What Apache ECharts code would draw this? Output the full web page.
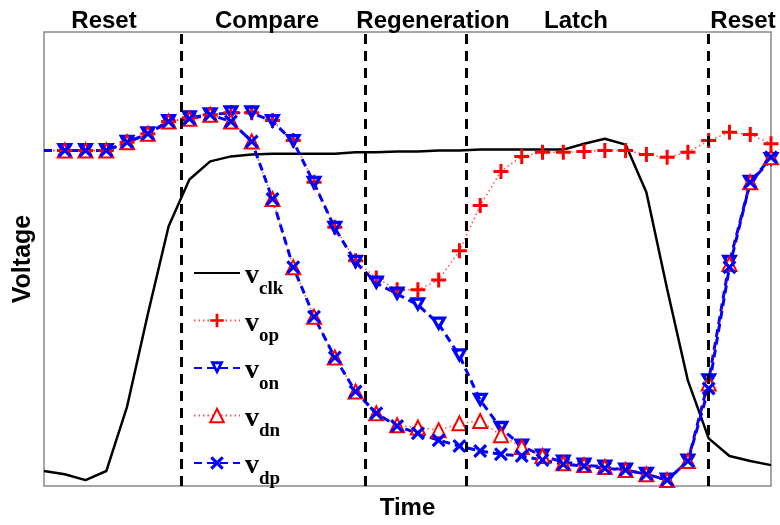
<!DOCTYPE html>
<html>
<head>
<meta charset="utf-8">
<script src="https://cdn.jsdelivr.net/npm/echarts@6/dist/echarts.min.js"></script>
<style>
    html, body {margin: 0; padding: 0; background: #fff;}
    #main {width: 780px; height: 525px;}
</style>
</head>
<body>
<div id="main"></div>
<script>
    // time steps 0..35, voltage in % of plot height
    var vclk = [3.3, 2.6, 1.3, 3.3, 17.5, 37.9, 57.2, 67.5, 71.5, 72.6, 73.0, 73.2, 73.2, 73.2, 73.2, 73.5, 73.5, 73.7,
        73.7, 73.9, 73.9, 74.1, 74.1, 74.1, 74.1, 74.1, 75.4, 76.5, 75.2, 64.7, 43.4, 23.2, 10.5, 6.6, 5.5, 4.6];
    var vop = [73.9, 73.9, 73.9, 73.9, 75.7, 77.6, 80.3, 81.1, 81.8, 82.2, 82.2, 80.5, 76.1, 66.9, 57.0, 49.6, 45.8, 43.2,
        43.2, 45.4, 51.8, 61.8, 69.3, 72.6, 73.5, 73.5, 73.7, 73.9, 73.9, 73.0, 72.4, 73.5, 76.1, 77.9, 77.4, 75.4];
    var von = [73.9, 73.9, 73.9, 73.9, 75.7, 77.6, 80.3, 81.1, 81.8, 82.2, 82.2, 80.3, 75.9, 66.7, 56.8, 49.3, 44.7, 42.3,
        39.9, 35.7, 28.7, 18.9, 12.7, 8.8, 6.6, 5.3, 4.6, 4.2, 3.5, 2.6, 1.3, 5.5, 23.2, 49.3, 66.9, 71.9];
    var vdn = [73.9, 73.9, 73.9, 73.9, 75.7, 77.6, 80.3, 80.9, 81.8, 80.3, 75.9, 63.2, 48.2, 37.3, 28.3, 20.8, 16.0, 13.4,
        12.9, 12.3, 13.8, 14.3, 11.2, 8.6, 6.6, 5.0, 4.6, 4.2, 3.5, 2.6, 1.3, 5.5, 22.6, 48.9, 66.9, 72.4];
    var vdp = [73.9, 73.9, 73.9, 73.9, 75.7, 77.6, 80.3, 80.9, 81.8, 80.3, 75.9, 63.2, 48.2, 37.3, 28.3, 20.8, 16.0, 13.2,
        11.6, 10.1, 8.8, 7.7, 7.0, 6.6, 5.7, 4.8, 4.4, 3.9, 3.5, 2.6, 1.3, 5.5, 21.5, 48.2, 66.9, 72.4];

    // phase boundaries (time steps) and phase names
    var phaseLines = [6.6, 15.45, 20.32, 31.97];
    var phaseNames = ['Reset', 'Compare', 'Regeneration', 'Latch', 'Reset'];
    var phaseX = [104, 267, 433, 576, 743];

    var plusPath = 'path://M6,0H9V6H15V9H9V15H6V9H0V6H6Z';
    var crossPath = 'path://M0,1.6L1.6,0L5,3.4L8.4,0L10,1.6L6.6,5L10,8.4L8.4,10L5,6.6L1.6,10L0,8.4L3.4,5Z';
    // thick open triangle pointing down (outer cw, inner ccw -> hole)
    var triDownPath = 'path://M0,0L14,0L7,12ZM4.7,2.7L7,6.64L9.3,2.7Z';

    function pts(arr) {
        return arr.map(function (v, i) {
            return i === 0 ? {value: [i, v], symbol: 'none'} : [i, v];
        });
    }

    var serif = 'Liberation Serif';
    var sans = 'Liberation Sans';
    var legendRich = {
        v: {fontFamily: serif, fontWeight: 'bold', fontSize: 28, color: '#000', padding: [6, 0, 0, 0]},
        s: {fontFamily: serif, fontWeight: 'bold', fontSize: 19, color: '#000', padding: [32, 0, 0, 0]}
    };
    var redDot = {color: 'rgba(255,0,0,0.7)', width: 1.5, type: [1.5, 3]};
    var blueDash = {color: '#0000ff', width: 3, type: [8, 5]};

    var chart = echarts.init(document.getElementById('main'));
    chart.setOption({
        animation: false,
        grid: {left: 44, right: 9, top: 32, bottom: 37, show: true, borderColor: '#888', borderWidth: 1.5},
        xAxis: {
            type: 'value', min: 0, max: 35,
            axisLine: {show: false}, axisTick: {show: false}, axisLabel: {show: false}, splitLine: {show: false},
            name: 'Time', nameLocation: 'middle', nameGap: 10,
            nameTextStyle: {fontFamily: sans, fontWeight: 'bold', fontSize: 24, color: '#000'}
        },
        yAxis: {
            type: 'value', min: 0, max: 100,
            axisLine: {show: false}, axisTick: {show: false}, axisLabel: {show: false}, splitLine: {show: false},
            name: 'Voltage', nameLocation: 'middle', nameGap: 8,
            nameTextStyle: {fontFamily: sans, fontWeight: 'bold', fontSize: 25, color: '#000'}
        },
        legend: {
            orient: 'vertical', left: 188, top: 257, height: 265, itemGap: 11, itemWidth: 46, itemHeight: 17,
            data: [{name: 'clk', itemStyle: {opacity: 0}}, 'op', 'on', 'dn', 'dp'],
            formatter: function (name) {
                return '{v|v}{s|' + name + '}';
            },
            textStyle: {rich: legendRich}
        },
        graphic: phaseNames.map(function (t, i) {
            return {
                type: 'text', x: phaseX[i], y: 21,
                style: {
                    text: t, textAlign: 'center', textVerticalAlign: 'middle',
                    font: 'bold 24px "Liberation Sans"', fill: '#000'
                }
            };
        }),
        series: [
            {
                name: 'clk', type: 'line', data: pts(vclk), symbol: 'none',
                lineStyle: {color: '#000', width: 2.5}, itemStyle: {color: '#000'},
                markLine: {
                    silent: true, symbol: 'none', label: {show: false},
                    lineStyle: {color: '#000', width: 3, type: [10, 7]},
                    data: phaseLines.map(function (x) {
                        return {xAxis: x};
                    })
                }
            },
            {
                name: 'op', type: 'line', data: pts(vop), symbol: plusPath, symbolSize: 15, showAllSymbol: true,
                lineStyle: redDot, itemStyle: {color: '#ff0000'}
            },
            {
                name: 'on', type: 'line', data: pts(von), symbol: triDownPath, symbolSize: [17, 15],
                showAllSymbol: true, lineStyle: blueDash, itemStyle: {color: '#0000ff'}
            },
            {
                name: 'dn', type: 'line', data: pts(vdn), symbol: 'emptyTriangle', symbolSize: 14, showAllSymbol: true,
                lineStyle: redDot, itemStyle: {color: '#ff0000', borderColor: '#ff0000', borderWidth: 2.5}
            },
            {
                name: 'dp', type: 'line', data: pts(vdp), symbol: crossPath, symbolSize: 14, showAllSymbol: true,
                lineStyle: blueDash, itemStyle: {color: '#0000ff'}
            }
        ]
    });
</script>
</body>
</html>
